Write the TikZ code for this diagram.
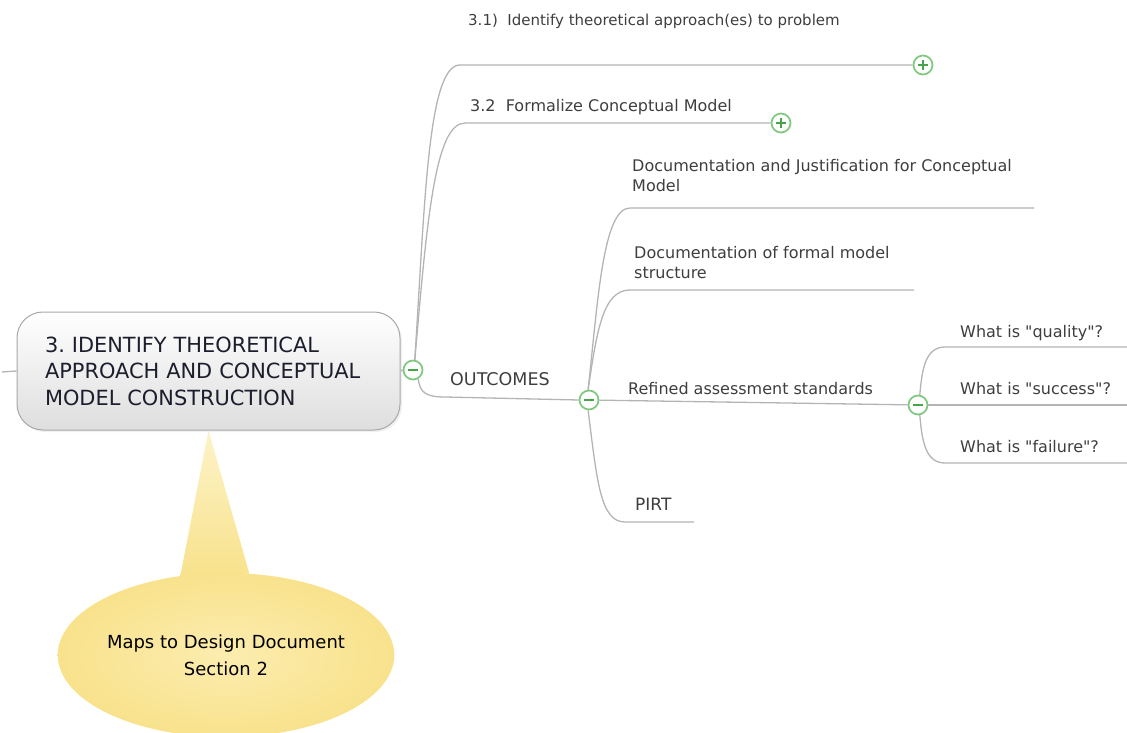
\documentclass[tikz,border=0pt]{standalone}
\usepackage{fontspec}
\setmainfont{DejaVu Sans}[Ligatures=TeXOff]
\usetikzlibrary{shapes.geometric,shadows}
\frenchspacing

\definecolor{linkgray}{RGB}{180,180,180}
\definecolor{labelgray}{RGB}{62,62,62}
\definecolor{titleink}{RGB}{28,30,45}
\definecolor{ringgreen}{RGB}{125,200,125}
\definecolor{signgreen}{RGB}{70,165,70}
\definecolor{boxedge}{RGB}{168,168,168}
\definecolor{boxbottom}{RGB}{222,222,222}
\definecolor{noteinner}{RGB}{252,237,175}
\definecolor{noteouter}{RGB}{248,226,140}
\definecolor{tailtop}{RGB}{253,243,200}

\pgfdeclarelayer{behind}
\pgfsetlayers{behind,main}

\begin{document}
\begin{tikzpicture}[x=1pt,y=-1pt,
  branchline/.style={draw=linkgray,line width=1.3pt},
  leaftext/.style={anchor=base west,inner sep=0pt,text=labelgray,
    font=\fontsize{16}{19.5}\selectfont},
  leafblock/.style={leaftext,anchor=north west,align=left},
  togglering/.style={circle,draw=ringgreen,fill=white,line width=1.7pt,
    minimum size=19pt,inner sep=0pt},
  togglemark/.style={draw=signgreen,line width=2.2pt}]

\path[use as bounding box] (0,0) rectangle (1127,733);

% central topic
\node[draw=boxedge,line width=1pt,rounded corners=26pt,
  top color=white,bottom color=boxbottom,
  drop shadow={shadow xshift=2pt,shadow yshift=-2pt,opacity=0.12},
  minimum height=118pt,text width=327pt,inner xsep=28pt,inner ysep=0pt,
  align=left,text=titleink,font=\fontsize{20.9}{26.5}\selectfont]
  (root) at (208.5,371)
  {3. IDENTIFY THEORETICAL\\APPROACH AND CONCEPTUAL\\MODEL CONSTRUCTION};

% callout
\node[ellipse,inner color=noteinner,outer color=noteouter,
  minimum width=332pt,minimum height=164pt,inner sep=0pt,align=center,
  font=\fontsize{18}{27}\selectfont] (note) at (226,655)
  {Maps to Design Document\\Section 2};
\begin{pgfonlayer}{behind}
  \shade[top color=tailtop,bottom color=noteouter]
    (root.south) -- (note.120) -- (note.74) -- cycle;
\end{pgfonlayer}

% collapse / expand markers
\node[togglering] (c0) at (413,370) {};
\node[togglering] (c1) at (589,400) {};
\node[togglering] (cr) at (918,405) {};
\node[togglering] (p1) at (923,65) {};
\node[togglering] (p2) at (781,123) {};

% free ends of the leaf lines
\coordinate (stub) at (2,372);
\coordinate (djend) at (1034,208);
\coordinate (dfend) at (914,290);
\coordinate (pirtend) at (694,522);
\coordinate (qend) at (1127,347);
\coordinate (send) at (1127,405);
\coordinate (fend) at (1127,463);

% connectors
\draw[branchline] (stub) -- (root.west);
\draw[branchline] (root.east) -- (c0.west);
\draw[branchline] (c0.80) .. controls (425,200) and (428,65) .. (460,65) -- (p1.west);
\draw[branchline] (c0.80) .. controls (427,220) and (435,123) .. (465,123) -- (p2.west);
\draw[branchline] (c0.-60) .. controls (420,392) and (425,397) .. (445,397) -- (c1.west);
\draw[branchline] (c1.95) .. controls (598,300) and (603,208) .. (630,208) -- (djend);
\draw[branchline] (c1.95) .. controls (597,330) and (603,290) .. (630,290) -- (dfend);
\draw[branchline] (c1) -- (cr);
\draw[branchline] (c1.-95) .. controls (597,480) and (600,522) .. (625,522) -- (pirtend);
\draw[branchline] (cr.80) .. controls (922,370) and (925,347) .. (945,347) -- (qend);
\draw[branchline] (cr.east) -- (send);
\draw[branchline] (cr.-80) .. controls (922,440) and (925,463) .. (945,463) -- (fend);

% marker glyphs
\foreach \m in {c0,c1,cr,p1,p2}
  \draw[togglemark] ([xshift=-5pt]\m.center) -- ([xshift=5pt]\m.center);
\foreach \m in {p1,p2}
  \draw[togglemark] ([yshift=-5pt]\m.center) -- ([yshift=5pt]\m.center);

% labels
\node[leaftext,font=\fontsize{15}{18}\selectfont] (t31) at (468,26)
  {3.1)~~Identify theoretical approach(es) to problem};
\node[leaftext] (t32) at (470,112) {3.2~~Formalize Conceptual Model};
\node[leaftext,font=\fontsize{17.5}{20}\selectfont] (tout) at (450,385) {OUTCOMES};
\node[leafblock] (tdj) at (632,159.5) {Documentation and Justification for Conceptual\\Model};
\node[leafblock] (tdf) at (634,246.5) {Documentation of formal model\\structure};
\node[leaftext] (tref) at (628,394) {Refined assessment standards};
\node[leaftext,font=\fontsize{17}{20}\selectfont] (tpirt) at (635,510) {PIRT};
\node[leaftext] (tq) at (960,337) {What is "quality"?};
\node[leaftext] (ts) at (960,394) {What is "success"?};
\node[leaftext] (tf) at (960,452) {What is "failure"?};

\end{tikzpicture}
\end{document}
